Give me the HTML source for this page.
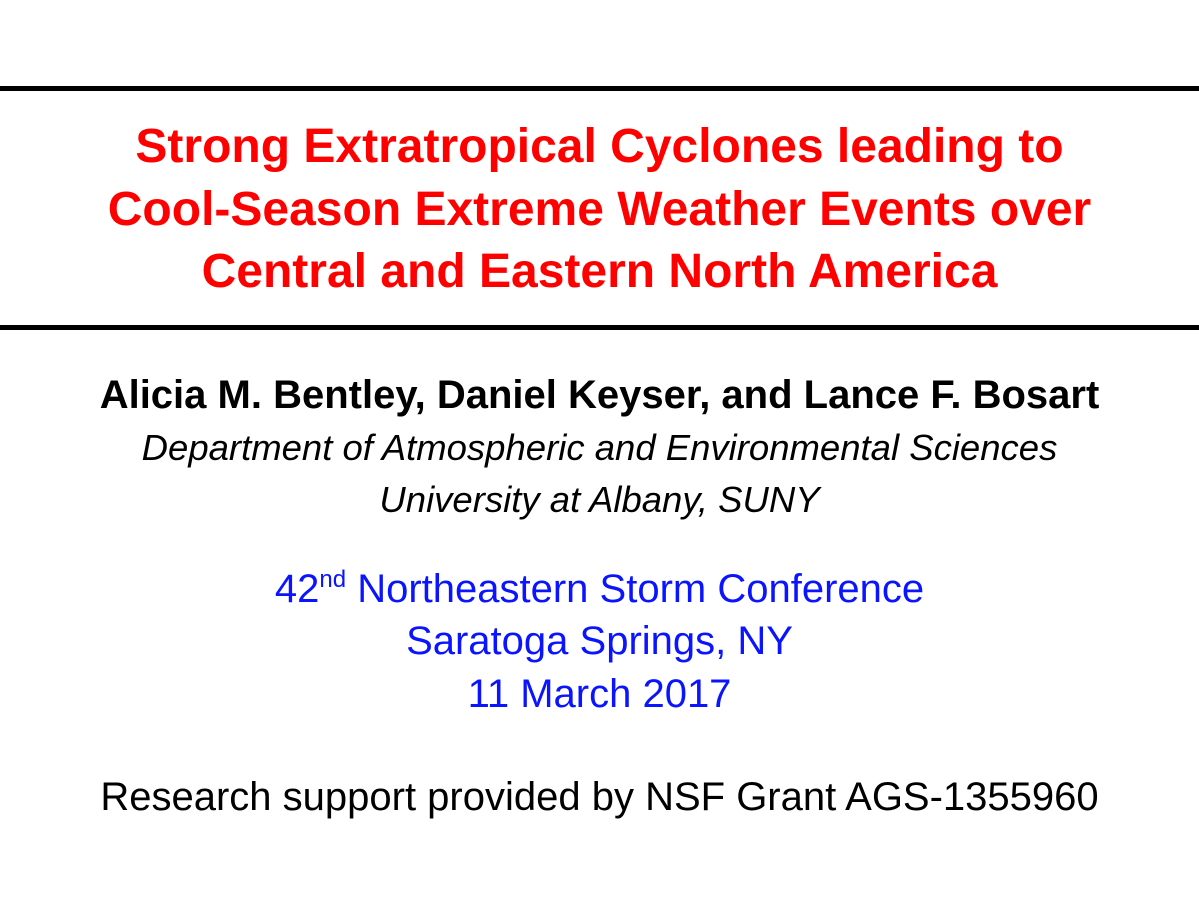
<!DOCTYPE html>
<html>
<head>
<meta charset="utf-8">
<style>
  html, body { margin: 0; padding: 0; }
  body { width: 1199px; height: 898px; background: #fff; position: relative; overflow: hidden; font-family: "Liberation Sans", Arial, sans-serif; }
  .rule { position: absolute; left: 0; width: 1199px; height: 5px; background: #000; }
  .line { position: absolute; left: 0; width: 1199px; text-align: center; height: 60px; line-height: 60px; white-space: nowrap; }
  .title { color: #ff0000; font-weight: bold; font-size: 48px; }
  .author { color: #000; font-weight: bold; font-size: 40px; }
  .affil { color: #000; font-style: italic; font-size: 36.5px; }
  .conf { color: #0a14ff; font-size: 40px; }
  .grant { color: #000; font-size: 40px; }
  sup { font-size: 24px; vertical-align: 15px; line-height: 0; }
</style>
</head>
<body>
  <div class="rule" style="top:86px"></div>
  <div class="line title" style="top:117px">Strong Extratropical Cyclones leading to</div>
  <div class="line title" style="top:180px">Cool-Season Extreme Weather Events over</div>
  <div class="line title" style="top:242px">Central and Eastern North America</div>
  <div class="rule" style="top:325px"></div>

  <div class="line author" style="top:365px">Alicia M. Bentley, Daniel Keyser, and Lance F. Bosart</div>
  <div class="line affil" style="top:418px">Department of Atmospheric and Environmental Sciences</div>
  <div class="line affil" style="top:470px">University at Albany, SUNY</div>

  <div class="line conf" style="top:559px">42<sup>nd</sup> Northeastern Storm Conference</div>
  <div class="line conf" style="top:611px">Saratoga Springs, NY</div>
  <div class="line conf" style="top:664px">11 March 2017</div>

  <div class="line grant" style="top:767px">Research support provided by NSF Grant AGS-1355960</div>
</body>
</html>
